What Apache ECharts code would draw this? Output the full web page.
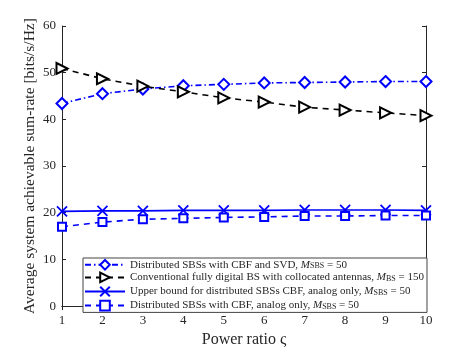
<!DOCTYPE html>
<html>
<head>
<meta charset="utf-8">
<script src="https://cdn.jsdelivr.net/npm/echarts@6/dist/echarts.min.js"></script>
<style>
  html, body { margin: 0; padding: 0; background: #fff; }
  #chart { width: 471px; height: 353px; }
</style>
</head>
<body>
<div id="chart"></div>
<script>
// 数据
const powerRatio = [1, 2, 3, 4, 5, 6, 7, 8, 9, 10]
const svdRate = [43.4, 45.5, 46.5, 47.2, 47.5, 47.8, 47.9, 48.0, 48.1, 48.1]
const digitalRate = [50.9, 48.7, 47.1, 45.9, 44.6, 43.7, 42.6, 42.0, 41.4, 40.8]
const upperRate = [20.3, 20.4, 20.4, 20.5, 20.5, 20.5, 20.6, 20.6, 20.6, 20.5]
const analogRate = [17.0, 18.0, 18.6, 18.8, 19.0, 19.1, 19.3, 19.3, 19.4, 19.4]
const yTicks = [0, 10, 20, 30, 40, 50, 60]

const names = ['svd', 'digital', 'upper', 'analog']
const legendText = {
    svd: 'Distributed SBSs with CBF and SVD, {i|M}{s|SBS} = 50',
    digital: 'Conventional fully digital BS with collocated antennas, {i|M}{s|BS} = 150',
    upper: 'Upper bound for distributed SBSs CBF, analog only, {i|M}{s|SBS} = 50',
    analog: 'Distributed SBSs with CBF, analog only, {i|M}{s|SBS} = 50'
}

const font = 'Liberation Serif'
const axisColor = '#262626'
const blue = '#0000ff'

function pair(ys) {
    return powerRatio.map((x, i) => [x, ys[i]])
}

const chart = echarts.init(document.getElementById('chart'))

const mirror = {
    axisLine: { show: true, lineStyle: { color: axisColor, width: 1 } },
    axisTick: { show: true, inside: true, length: 4, lineStyle: { color: axisColor } },
    axisLabel: { show: false },
    splitLine: { show: false }
}

const option = {
    animation: false,
    grid: { left: 62, right: 45, top: 26, bottom: 41 },
    xAxis: [
        {
            type: 'value', min: 1, max: 10, interval: 1,
            name: 'Power ratio ς', nameLocation: 'middle', nameGap: 23,
            nameTextStyle: { fontFamily: font, fontSize: 16, color: axisColor },
            axisLine: { lineStyle: { color: axisColor, width: 1 } },
            axisTick: { inside: true, length: 4, lineStyle: { color: axisColor } },
            axisLabel: { fontFamily: font, fontSize: 13, color: axisColor, margin: 8 },
            splitLine: { show: false }
        },
        Object.assign({ type: 'value', min: 1, max: 10, interval: 1, position: 'top' }, mirror)
    ],
    yAxis: [
        {
            type: 'value', min: yTicks[0], max: yTicks[yTicks.length - 1], interval: 10,
            name: 'Average system achievable sum-rate [bits/s/Hz]',
            nameLocation: 'middle', nameGap: 24, nameMoveOverlap: false,
            nameTextStyle: { fontFamily: font, fontSize: 15.5, color: axisColor },
            axisLine: { show: true, lineStyle: { color: axisColor, width: 1 } },
            axisTick: { show: true, inside: true, length: 4, lineStyle: { color: axisColor } },
            axisLabel: { fontFamily: font, fontSize: 13, color: axisColor, margin: 6 },
            splitLine: { show: false }
        },
        Object.assign({ type: 'value', min: 0, max: 60, interval: 10, position: 'right' }, mirror)
    ],
    legend: {
        orient: 'vertical',
        left: 83, top: 258,
        padding: [1, 3, 1, 1],
        itemGap: 1,
        itemWidth: 40, itemHeight: 12,
        backgroundColor: '#fff',
        borderColor: '#444', borderWidth: 1,
        data: names,
        formatter: name => legendText[name],
        textStyle: {
            fontFamily: font, fontSize: 11, color: axisColor,
            rich: {
                i: { fontFamily: font, fontStyle: 'italic', fontSize: 11, color: axisColor },
                s: { fontFamily: font, fontSize: 8, color: axisColor, verticalAlign: 'bottom', padding: [3, 0, 0, 0] }
            }
        }
    },
    series: [
        {
            name: 'svd', type: 'line', data: pair(svdRate),
            symbol: 'emptyDiamond', symbolSize: 11,
            lineStyle: { color: blue, width: 1.6, type: [6, 3, 1.5, 3] },
            itemStyle: { color: blue, borderWidth: 1.6 }
        },
        {
            name: 'digital', type: 'line', data: pair(digitalRate),
            symbol: 'emptyTriangle', symbolSize: 11, symbolRotate: -90,
            lineStyle: { color: '#000', width: 1.6, type: [6, 5] },
            itemStyle: { color: '#000', borderWidth: 1.6 }
        },
        {
            name: 'upper', type: 'line', data: pair(upperRate),
            symbol: 'path://M0,0L10,10M10,0L0,10', symbolSize: 10,
            lineStyle: { color: blue, width: 1.6 },
            itemStyle: { color: 'none', borderColor: blue, borderWidth: 1.8 }
        },
        {
            name: 'analog', type: 'line', data: pair(analogRate),
            symbol: 'emptyRect', symbolSize: 8,
            lineStyle: { color: blue, width: 1.6, type: [6, 5] },
            itemStyle: { color: blue, borderWidth: 1.6 }
        }
    ]
}
chart.setOption(option)
window.addEventListener('resize', () => {
    chart.resize()
})
</script>
</body>
</html>
